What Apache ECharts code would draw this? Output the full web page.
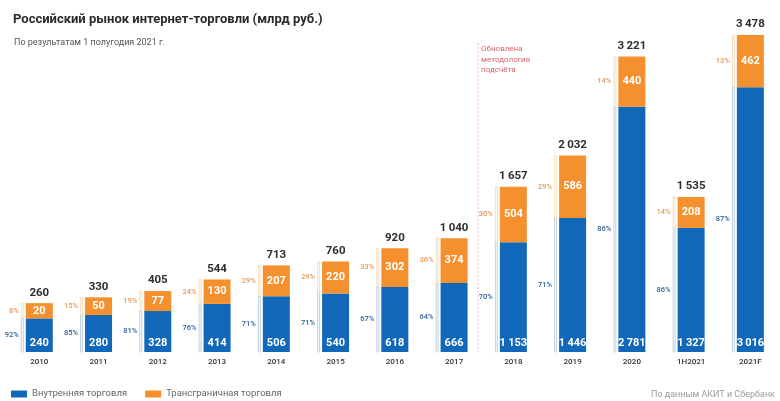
<!DOCTYPE html>
<html>
<head>
<meta charset="utf-8">
<script src="https://cdn.jsdelivr.net/npm/echarts@6/dist/echarts.min.js"></script>
<style>
html,body{margin:0;padding:0;background:#fff;}
#chart{width:780px;height:401px;}
</style>
</head>
<body>
<div id="chart"></div>
<script>
const categories = ['2010','2011','2012','2013','2014','2015','2016','2017','2018','2019','2020','1H2021','2021F'];
const domestic = [240,280,328,414,506,540,618,666,1153,1446,2781,1327,3016];
const crossBorder = [20,50,77,130,207,220,302,374,504,586,440,208,462];
const domesticPct = [92,85,81,76,71,71,67,64,70,71,86,86,87];
const crossPct = [8,15,19,24,29,29,33,36,30,29,14,14,13];
const seriesNames = ['Внутренняя торговля','Трансграничная торговля'];

const BLUE = '#1268b8';
const ORANGE = '#f5902f';
const PAD = 13.6;       // visual minimum height of each segment (px)
const BAR_W = 27;

function fmt(n){ return String(n).replace(/\B(?=(\d{3})+(?!\d))/g, '\u2009'); }

const chart = echarts.init(document.getElementById('chart'), null, {renderer:'canvas'});

const VAL_FONT = 'bold 11px Roboto, sans-serif';

function blueItem(params, api){
  const i = api.value(0), v = api.value(1);
  const base = api.coord([i, 0]);
  const x = base[0], y0 = base[1];
  const h = api.size([0, v])[1] + PAD;
  const left = x - BAR_W/2;
  return {type:'group', children:[
    {type:'rect', shape:{x:left, y:y0-h, width:BAR_W, height:h}, style:{fill:BLUE}},
    {type:'rect', shape:{x:left-4.5, y:y0-h, width:2, height:h}, style:{fill:'#f6f9fc', stroke:'#a9c1d8', lineWidth:0.7}},
    {type:'text', style:{text:fmt(v), x:x, y:y0-8.5, fill:'#fff', font:VAL_FONT, align:'center', verticalAlign:'middle'}},
    {type:'text', style:{text:domesticPct[i]+'%', x:left-7, y:y0-h/2, fill:'#2d5f92', font:'500 7.5px Roboto, sans-serif', align:'right', verticalAlign:'middle'}}
  ]};
}
function orangeItem(params, api){
  const i = api.value(0), b = api.value(1), v = api.value(2);
  const base = api.coord([i, 0]);
  const x = base[0], y0 = base[1];
  const hb = api.size([0, b])[1] + PAD;
  const ho = api.size([0, v])[1] + PAD;
  const left = x - BAR_W/2;
  const top = y0 - hb - ho;
  return {type:'group', children:[
    {type:'rect', shape:{x:left, y:top, width:BAR_W, height:ho}, style:{fill:ORANGE}},
    {type:'rect', shape:{x:left-4.5, y:top, width:2, height:ho}, style:{fill:'#fffaf2', stroke:'#f3d3ad', lineWidth:0.7}},
    {type:'text', style:{text:fmt(v), x:x, y:top+ho/2, fill:'#fff', font:VAL_FONT, align:'center', verticalAlign:'middle'}},
    {type:'text', style:{text:crossPct[i]+'%', x:left-7, y:top+ho/2, fill:'#e39a58', font:'500 7.5px Roboto, sans-serif', align:'right', verticalAlign:'middle'}},
    {type:'text', style:{text:fmt(b+v), x:x, y:top-10.5, fill:'#2e2e2e', font:'bold 11.5px Roboto, sans-serif', align:'center', verticalAlign:'middle'}}
  ]};
}

const option = {
  animation:false,
  backgroundColor:'#fff',
  title:[
    {text:'Российский рынок интернет-торговли (млрд руб.)', left:8, top:8, textStyle:{fontSize:13, fontWeight:'bold', color:'#2b2b2b', fontFamily:'Roboto'}},
    {text:'По результатам 1 полугодия 2021 г.', left:9, top:33, textStyle:{fontSize:9, fontWeight:'normal', color:'#555', fontFamily:'Roboto'}}
  ],
  legend:{
    left:6, top:384, icon:'rect', itemWidth:16, itemHeight:7, itemGap:18,
    textStyle:{fontSize:9.5, color:'#666', fontFamily:'Roboto'},
    data:seriesNames
  },
  grid:{left:9.67, width:788.7, top:39.6, bottom:49},
  xAxis:{type:'category', data:categories,
    axisLine:{show:false}, axisTick:{show:false},
    axisLabel:{fontSize:8, color:'#333', fontWeight:500, margin:6, fontFamily:'Roboto'}},
  yAxis:{type:'value', min:0, max:3750, show:false, splitLine:{show:false}},
  series:[
    {name:seriesNames[0], type:'custom', itemStyle:{color:BLUE}, clip:false,
      encode:{x:0, y:1},
      data:domestic.map((v,i)=>[i, v]), renderItem:blueItem},
    {name:seriesNames[1], type:'custom', itemStyle:{color:ORANGE}, clip:false,
      encode:{x:0, y:[1,2]},
      data:crossBorder.map((v,i)=>[i, domestic[i], v]), renderItem:orangeItem}
  ]
};
chart.setOption(option);

const px2017 = chart.convertToPixel({xAxisIndex:0}, '2017');
const lineX = px2017 + 24;
chart.setOption({
  graphic:[
    {type:'line', shape:{x1:lineX, y1:43, x2:lineX, y2:352}, style:{stroke:'#ecb3b8', lineWidth:1, lineDash:[2,2]}},
    {type:'text', left:lineX+3, top:44, style:{text:'Обновлена\nметодология\nподсчёта', fill:'#d8666e', font:'8px Roboto, sans-serif', lineHeight:10.5}},
    {type:'text', left:651, top:390, style:{text:'По данным АКИТ и Сбербанк', fill:'#9a9a9a', font:'9px Roboto, sans-serif'}}
  ]
});
</script>
</body>
</html>
